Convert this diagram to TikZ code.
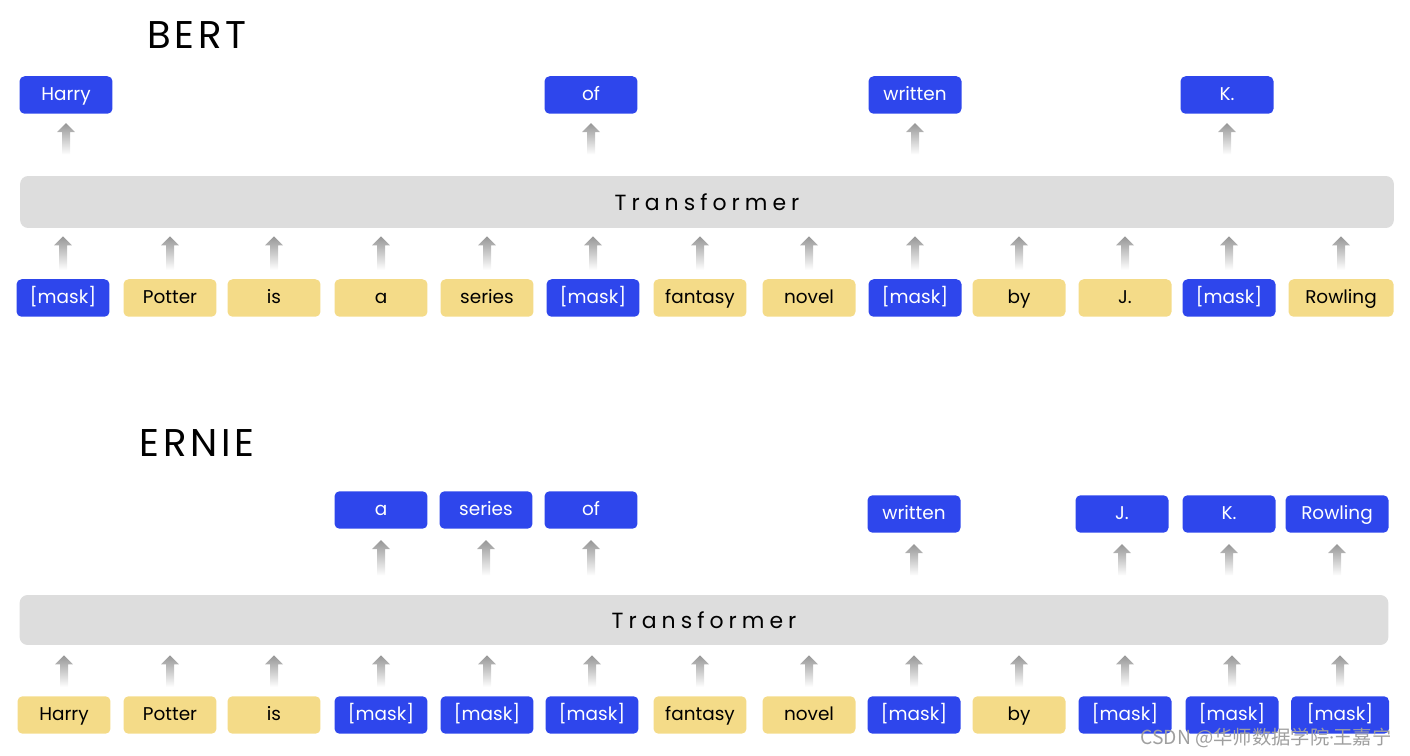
\documentclass[tikz,border=0pt]{standalone}
\usepackage{fontspec}
\setmainfont{Poppins}
\newfontfamily\spacedfont[LetterSpace=23]{Poppins}
\newfontfamily\titlefont[LetterSpace=10]{Poppins}
\newfontfamily\cjkfont{Noto Sans CJK SC}
\usetikzlibrary{calc}
\definecolor{maskblue}{RGB}{46,70,236}
\definecolor{wordyellow}{RGB}{244,219,136}
\definecolor{bargray}{RGB}{221,221,221}
\definecolor{arrgray}{RGB}{150,150,150}
\tikzset{>=stealth,
  word/.style={rectangle, rounded corners=0.1cm, fill=wordyellow, text=black, inner sep=0pt,
    minimum width=1.86cm, minimum height=0.75cm, text height=1.55ex, text depth=0.45ex,
    font=\fontsize{10.5}{12}\selectfont},
  mask/.style={word, fill=maskblue, text=white},
  layer/.style={rectangle, rounded corners=0.16cm, fill=bargray, inner sep=0pt,
    font=\spacedfont\fontsize{12.5}{14}\selectfont},
  title/.style={font=\titlefont\fontsize{22}{26}\selectfont}}
% shaded up arrow: #1 base, #2 tip
\newcommand\fadearrow[2]{\shade[top color=arrgray, bottom color=white]
  let \p1=(#1), \p2=(#2) in (\x1-0.08cm,\y1) -- (\x1-0.08cm,\y2-0.18cm) -- (\x1-0.18cm,\y2-0.18cm)
  -- (\x1,\y2) -- (\x1+0.18cm,\y2-0.18cm) -- (\x1+0.08cm,\y2-0.18cm) -- (\x1+0.08cm,\y1) -- cycle;}

\begin{document}
\begin{tikzpicture}[x=0.02cm, y=-0.02cm]
    \useasboundingbox (0,0) rectangle (1410,756);

    % BERT
    \node[title] (bert) at (197,35) {BERT};
    \node[layer, minimum width=27.48cm, minimum height=1.04cm] (bertT) at (707,202) {Transformer};
    \foreach \i/\x/\w in {2/170/Potter, 3/274/is, 4/381/a, 5/487/series, 7/700/fantasy,
        8/809/novel, 10/1019/by, 11/1125/J.}
        \node[word] (bw\i) at (\x,298) {\w};
    \foreach \i/\x in {1/63, 6/593, 9/915, 12/1229}
        \node[mask] (bw\i) at (\x,298) {[mask]};
    \node[word, minimum width=2.1cm] (bw13) at (1341,298) {Rowling};
    \foreach \i in {1,...,13} {
        \fadearrow{$(bw\i.north)+(0,-9)$}{$(bw\i.north |- bertT.south)+(0,8)$}
    }
    \foreach \i/\x/\w in {1/66/Harry, 2/591/of, 3/915/written, 4/1227/K.} {
        \node[mask] (bo\i) at (\x,95) {\w};
        \fadearrow{$(bo\i.south |- bertT.north)+(0,-21)$}{$(bo\i.south)+(0,9)$}
    }

    % ERNIE
    \node[title] (ernie) at (197,443) {ERNIE};
    \node[layer, minimum width=27.38cm, minimum height=1.0cm] (ernieT) at (704,620) {Transformer};
    \foreach \i/\x/\w in {1/64/Harry, 2/170/Potter, 3/274/is, 7/700/fantasy, 8/809/novel, 10/1019/by}
        \node[word] (ew\i) at (\x,715) {\w};
    \foreach \i/\x in {4/381, 5/487, 6/592, 9/914, 11/1125, 12/1232}
        \node[mask] (ew\i) at (\x,715) {[mask]};
    \node[mask, minimum width=1.96cm] (ew13) at (1340,715) {[mask]};
    \foreach \i in {1,...,13} {
        \fadearrow{$(ew\i.north)+(0,-9)$}{$(ew\i.north |- ernieT.south)+(0,10)$}
    }
    \foreach \i/\x/\y/\w in {1/381/510/a, 2/486/510/series, 3/591/510/of, 4/914/514/written,
        5/1122/514/J., 6/1229/514/K.}
        \node[mask] (eo\i) at (\x,\y) {\w};
    \node[mask, minimum width=2.06cm] (eo7) at (1337,514) {Rowling};
    \foreach \i in {1,...,7} {
        \fadearrow{$(eo\i.south |- ernieT.north)+(0,-19)$}{$(eo\i.south)+(0,11)$}
    }

    \node[text=gray!75, font=\cjkfont\fontsize{11}{13}\selectfont] (mark) at (1266,738)
        {CSDN @华师数据学院{\rmfamily·}王嘉宁};
\end{tikzpicture}
\end{document}
